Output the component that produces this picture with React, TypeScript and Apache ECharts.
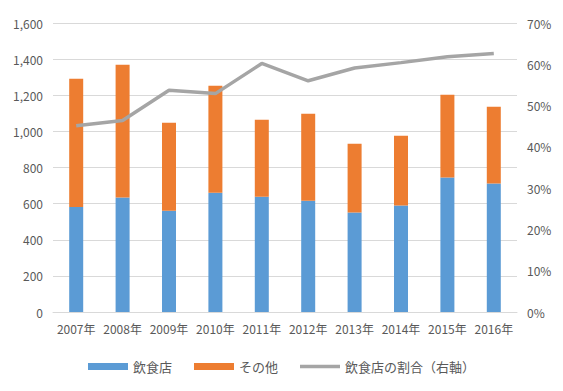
import React, { useEffect, useRef } from "react";
import * as echarts from "echarts";

const categories = ["2007年", "2008年", "2009年", "2010年", "2011年", "2012年", "2013年", "2014年", "2015年", "2016年"];
const restaurants = [582, 634, 561, 660, 638, 616, 551, 590, 744, 712];
const others = [710, 735, 487, 593, 427, 482, 381, 386, 459, 425];
const ratio = [0.451, 0.464, 0.537, 0.529, 0.602, 0.560, 0.591, 0.604, 0.618, 0.626];

const FONT = "'Noto Sans CJK JP', 'Noto Sans', sans-serif";

export default function App() {
  const ref = useRef<HTMLDivElement>(null);
  useEffect(() => {
    if (!ref.current) return;
    const chart = echarts.init(ref.current, undefined, { renderer: "svg" });
    chart.setOption({
      animation: false,
      textStyle: { fontFamily: FONT },
      grid: { left: 53, right: 46, top: 23, bottom: 79 },
      legend: {
        top: 355,
        left: "center",
        itemWidth: 40,
        itemHeight: 7,
        itemGap: 22,
        textStyle: { color: "#595959", fontSize: 13, fontFamily: FONT },
        data: [
          { name: "飲食店", icon: "rect" },
          { name: "その他", icon: "rect" },
          { name: "飲食店の割合（右軸）", icon: "path://M0,0 L40,0 L40,3.5 L0,3.5 Z" },
        ],
      },
      xAxis: {
        type: "category",
        data: categories,
        axisLine: { lineStyle: { color: "#d9d9d9" } },
        axisTick: { show: false },
        axisLabel: { color: "#595959", fontSize: 12, margin: 10, interval: 0 },
      },
      yAxis: [
        {
          type: "value",
          min: 0,
          max: 1600,
          interval: 200,
          axisLine: { show: false },
          axisTick: { show: false },
          splitLine: { lineStyle: { color: "#d9d9d9" } },
          axisLabel: {
            color: "#595959",
            fontSize: 12,
            margin: 10,
            formatter: (v: number) => v.toLocaleString("en-US"),
          },
        },
        {
          type: "value",
          min: 0,
          max: 0.7,
          interval: 0.1,
          axisLine: { show: false },
          axisTick: { show: false },
          splitLine: { show: false },
          axisLabel: {
            color: "#595959",
            fontSize: 12,
            margin: 10,
            formatter: (v: number) => Math.round(v * 100) + "%",
          },
        },
      ],
      series: [
        {
          name: "飲食店",
          type: "bar",
          stack: "total",
          data: restaurants,
          barWidth: 14,
          itemStyle: { color: "#5B9BD5" },
        },
        {
          name: "その他",
          type: "bar",
          stack: "total",
          data: others,
          barWidth: 14,
          itemStyle: { color: "#ED7D31" },
        },
        {
          name: "飲食店の割合（右軸）",
          type: "line",
          yAxisIndex: 1,
          data: ratio,
          symbol: "none",
          lineStyle: { color: "#A5A5A5", width: 3.5 },
          itemStyle: { color: "#A5A5A5" },
        },
      ],
    });
    return () => chart.dispose();
  }, []);
  return <div ref={ref} style={{ width: 563, height: 391, position: "absolute", left: 0, top: 0 }} />;
}
